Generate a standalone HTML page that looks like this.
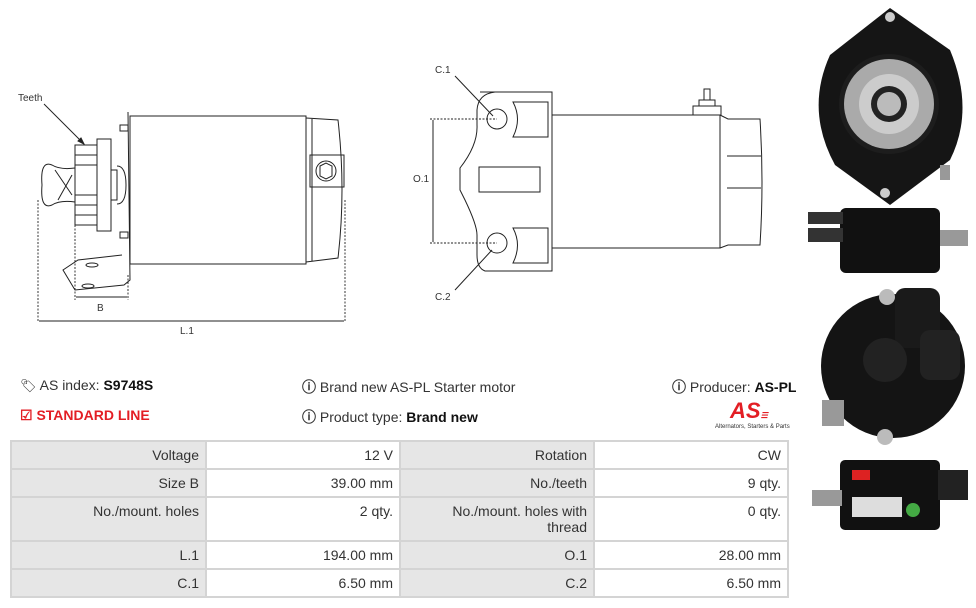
<!DOCTYPE html>
<html><head><meta charset="utf-8"><style>
body{margin:0;width:976px;height:608px;background:#fff;position:relative;overflow:hidden;font-family:"Liberation Sans",sans-serif;color:#333}
.t{position:absolute;font-size:14px;white-space:nowrap}
table{position:absolute;left:10px;top:440px;border-collapse:collapse;font-size:14px;color:#333;table-layout:fixed;width:777px}
td{border:2px solid #d4d4d4;text-align:right;vertical-align:top;padding:5px 6px 0 6px;height:21px;overflow:hidden}
td.l{background:#e6e6e6}
</style></head><body>
<svg width="976" height="608" style="position:absolute;left:0;top:0" fill="none" stroke="#222" stroke-width="1" font-family="Liberation Sans" font-size="10">
<!-- left drawing -->
<text x="18" y="101" fill="#333" stroke="none">Teeth</text>
<line x1="44" y1="104" x2="84" y2="144"/><polygon points="84,144 78,141 81,138" fill="#222"/>
<rect x="130" y="116" width="176" height="148"/>
<path d="M306 118 L338 120 Q346 190 338 258 L306 262"/>
<line x1="312" y1="119" x2="312" y2="261"/>
<rect x="310" y="155" width="34" height="32"/>
<circle cx="326" cy="171" r="10"/><polygon points="320,166 326,163 332,166 332,176 326,179 320,176"/>
<path d="M128 112 L130 280 L124 285 L75 290 L63 270 L78 260 L122 255"/>
<ellipse cx="92" cy="265" rx="6" ry="2"/><ellipse cx="88" cy="286" rx="6" ry="2"/>
<rect x="120" y="125" width="8" height="6"/><rect x="120" y="232" width="8" height="6"/>
<rect x="75" y="145" width="22" height="80"/>
<rect x="97" y="139" width="14" height="92"/>
<line x1="75" y1="155" x2="97" y2="155"/><line x1="75" y1="165" x2="97" y2="165"/><line x1="75" y1="195" x2="97" y2="195"/><line x1="75" y1="205" x2="97" y2="205"/><line x1="75" y1="215" x2="97" y2="215"/>
<rect x="111" y="170" width="6" height="30"/><path d="M117 166 Q126 166 126 185 Q126 204 117 204"/>
<path d="M75 168 Q60 170 52 165 Q40 160 42 185 Q40 210 52 205 Q60 200 75 202"/>
<path d="M55 170 L72 195 M58 200 L72 175"/>
<g stroke-dasharray="2,1.5" stroke-width="0.9"><line x1="38" y1="200" x2="38" y2="322"/><line x1="75" y1="225" x2="75" y2="300"/><line x1="128" y1="275" x2="128" y2="300"/><line x1="345" y1="200" x2="345" y2="322"/></g>
<line x1="76" y1="297" x2="127" y2="297"/><line x1="39" y1="321" x2="344" y2="321"/>
<text x="97" y="311" fill="#333" stroke="none">B</text><text x="180" y="334" fill="#333" stroke="none">L.1</text>
<!-- front drawing -->
<text x="435" y="73" fill="#333" stroke="none">C.1</text><text x="435" y="300" fill="#333" stroke="none">C.2</text><text x="413" y="182" fill="#333" stroke="none">O.1</text>
<line x1="455" y1="76" x2="493" y2="116"/><line x1="455" y1="290" x2="492" y2="250"/>
<path d="M480 92 L552 92 L552 271 L485 271 Q477 268 477 255 L477 235 Q477 225 465 200 L460 190 L460 168 Q478 145 477 125 L477 110 Q478 94 495 92 Z"/>
<circle cx="497" cy="119" r="10"/><circle cx="497" cy="243" r="10"/>
<rect x="479" y="167" width="61" height="25"/>
<path d="M513 102 L548 102 L548 137 L513 137 Q522 119 513 102 Z"/><path d="M513 228 L548 228 L548 263 L513 263 Q522 245 513 228 Z"/>
<rect x="552" y="115" width="168" height="133"/>
<path d="M720 115 L728 119 L760 119 Q764 182 760 245 L728 245 L720 248"/><line x1="727" y1="156" x2="761" y2="156"/><line x1="727" y1="188" x2="761" y2="188"/>
<rect x="693" y="106" width="28" height="9"/><rect x="699" y="100" width="16" height="6"/><rect x="704" y="89" width="6" height="11"/>
<g stroke-dasharray="2,1.5" stroke-width="0.9"><line x1="430" y1="119" x2="497" y2="119"/><line x1="430" y1="243" x2="497" y2="243"/></g>
<line x1="433" y1="120" x2="433" y2="242"/>
<!-- photos -->
<g stroke="none">
<path d="M890 8 L950 50 Q975 110 950 160 L890 205 L835 165 Q805 110 830 55 Z" fill="#151515"/>
<circle cx="889" cy="104" r="50" fill="#1d1d1d"/><circle cx="889" cy="104" r="45" fill="#aaa"/><circle cx="889" cy="104" r="30" fill="#ccc"/><circle cx="889" cy="104" r="18" fill="#222"/><circle cx="889" cy="104" r="12" fill="#bbb"/>
<circle cx="890" cy="17" r="5" fill="#ccc"/><circle cx="885" cy="193" r="5" fill="#ccc"/><rect x="940" y="165" width="10" height="15" fill="#999"/>
<rect x="840" y="208" width="100" height="65" rx="6" fill="#111"/><rect x="808" y="212" width="35" height="12" fill="#333"/><rect x="808" y="228" width="35" height="14" fill="#333"/><rect x="940" y="230" width="28" height="16" fill="#999"/>
<circle cx="893" cy="366" r="72" fill="#141414"/><rect x="895" y="288" width="45" height="60" rx="10" fill="#1a1a1a"/><rect x="920" y="330" width="40" height="50" rx="10" fill="#222"/><circle cx="887" cy="297" r="8" fill="#bbb"/><circle cx="885" cy="437" r="8" fill="#bbb"/><rect x="822" y="400" width="22" height="26" fill="#999"/><circle cx="885" cy="360" r="22" fill="#222"/>
<rect x="840" y="460" width="100" height="70" rx="5" fill="#111"/><rect x="812" y="490" width="30" height="16" fill="#999"/><rect x="938" y="470" width="30" height="30" fill="#222"/><rect x="852" y="497" width="50" height="20" fill="#ddd"/><circle cx="913" cy="510" r="7" fill="#4a4"/><rect x="852" y="470" width="18" height="10" fill="#d22"/>
</g>
</svg>
<div class="t" style="left:20px;top:377px"><span style="font-size:13px">&#x1F3F7;&#xFE0E;</span> AS index: <b style="color:#111">S9748S</b></div>
<div class="t" style="left:20px;top:407px;color:#e31e24;font-weight:bold">&#9745; STANDARD LINE</div>
<div class="t" style="left:302px;top:377px"><b>&#9432;</b> Brand new AS-PL Starter motor</div>
<div class="t" style="left:302px;top:407px"><b>&#9432;</b> Product type: <b style="color:#111">Brand new</b></div>
<div class="t" style="left:672px;top:377px"><b>&#9432;</b> Producer: <b style="color:#111">AS-PL</b></div>
<div class="t" style="left:730px;top:398px;color:#e31e24;font-weight:bold;font-style:italic;font-size:22px">AS<span style="font-size:8px;letter-spacing:-1px">☰</span></div>
<div class="t" style="left:715px;top:424px;font-size:6px">Alternators, Starters &amp; Parts</div>
<table>
<colgroup><col style="width:195px"><col style="width:194px"><col style="width:194px"><col style="width:194px"></colgroup>
<tr><td class="l">Voltage</td><td>12 V</td><td class="l">Rotation</td><td>CW</td></tr>
<tr><td class="l">Size B</td><td>39.00 mm</td><td class="l">No./teeth</td><td>9 qty.</td></tr>
<tr><td class="l" style="height:37px">No./mount. holes</td><td>2 qty.</td><td class="l">No./mount. holes with<br>thread</td><td>0 qty.</td></tr>
<tr><td class="l">L.1</td><td>194.00 mm</td><td class="l">O.1</td><td>28.00 mm</td></tr>
<tr><td class="l">C.1</td><td>6.50 mm</td><td class="l">C.2</td><td>6.50 mm</td></tr>
</table>
</body></html>
